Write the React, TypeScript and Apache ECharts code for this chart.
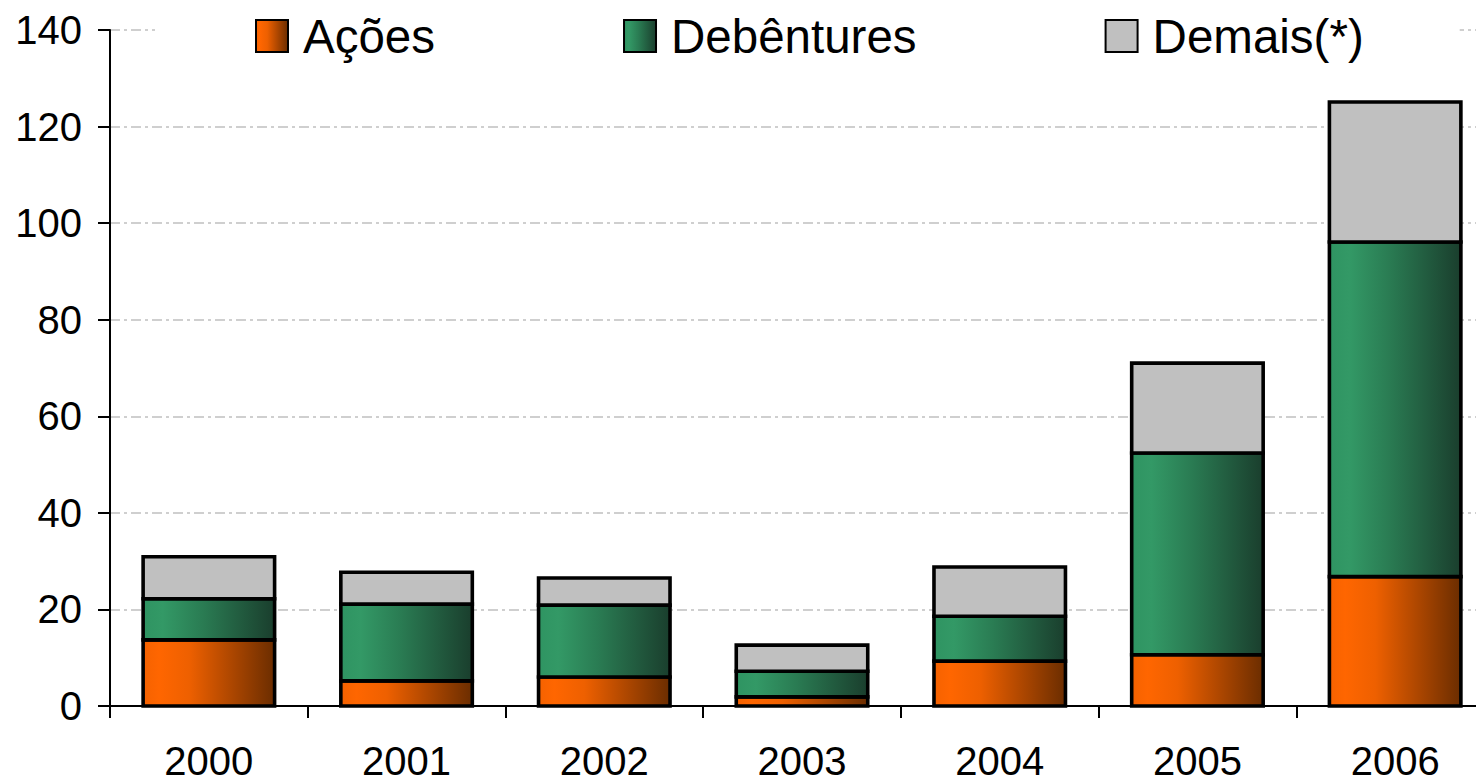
import React, { useEffect, useRef } from "react";
import * as echarts from "echarts";

const categories = ["2000", "2001", "2002", "2003", "2004", "2005", "2006"];
const acoes = [13.7, 5.2, 6.0, 1.9, 9.3, 10.6, 26.8];
const debentures = [8.5, 15.9, 14.9, 5.3, 9.3, 41.8, 69.3];
const demais = [8.7, 6.6, 5.6, 5.4, 10.2, 18.6, 29.0];
const seriesNames = ["Ações", "Debêntures", "Demais(*)"];

const FONT = "'Liberation Sans', Arial, sans-serif";

function grad(stops: [number, string][]) {
  return new echarts.graphic.LinearGradient(
    0, 0, 1, 0,
    stops.map(([offset, color]) => ({ offset, color }))
  );
}

export default function App() {
  const ref = useRef<HTMLDivElement>(null);
  useEffect(() => {
    if (!ref.current) return;
    const chart = echarts.init(ref.current, undefined, { renderer: "svg" });
    const fills = [
      () => grad([[0, "#f56200"], [0.12, "#ff6600"], [0.35, "#ee6000"], [1, "#6b2d00"]]),
      () => grad([[0, "#2f9462"], [0.15, "#339966"], [0.45, "#2a7c53"], [1, "#1a3e2d"]]),
      () => "#c0c0c0",
    ];
    const lists = [acoes, debentures, demais];
    const bases = categories.map(() => 0);
    const stacked = lists.map((list) =>
      list.map((v, i) => {
        const b = bases[i];
        bases[i] = b + v;
        return [i, b, b + v];
      })
    );
    const series = lists.map((_, s) => ({
      name: seriesNames[s],
      type: "custom",
      data: stacked[s],
      encode: { x: 0, y: [1, 2] },
      itemStyle: { color: fills[s](), borderColor: "#000", borderWidth: 3 },
      renderItem: (params: any, api: any) => {
        const idx = api.value(0);
        const top = api.coord([idx, api.value(2)]);
        const bottom = api.coord([idx, api.value(1)]);
        const w = api.size([1, 0])[0] * 0.665;
        return {
          type: "rect",
          shape: { x: top[0] - w / 2, y: top[1], width: w, height: bottom[1] - top[1] },
          style: { fill: fills[s](), stroke: "#000", lineWidth: 3.6 },
        };
      },
    }));
    chart.setOption({
      animation: false,
      textStyle: { fontFamily: FONT },
      legend: {
        top: 4,
        left: 155,
        padding: [8, 96, 8, 100],
        backgroundColor: "#fff",
        itemGap: 188,
        itemWidth: 32,
        itemHeight: 32,
        icon: "rect",
        textStyle: { fontSize: 47.5, color: "#000", fontFamily: FONT, padding: [0, 0, 0, 10] },
        data: seriesNames,
      },
      grid: { left: 110, top: 30, width: 1384, height: 676, containLabel: false },
      xAxis: {
        type: "category",
        data: categories,
        axisLine: { lineStyle: { color: "#000", width: 2 } },
        axisTick: { show: true, length: 12, lineStyle: { color: "#000", width: 2 } },
        axisLabel: { fontSize: 40, color: "#000", margin: 35, fontFamily: FONT },
      },
      yAxis: {
        type: "value",
        min: 0,
        max: 140,
        interval: 20,
        axisLine: { show: true, lineStyle: { color: "#000", width: 2 } },
        axisTick: { show: true, length: 12, lineStyle: { color: "#000", width: 2 } },
        axisLabel: { fontSize: 40, color: "#000", margin: 28, fontFamily: FONT },
        splitLine: { show: true, lineStyle: { color: "#c0c0c0", width: 1.5, type: [10, 4, 3, 4] } },
      },
      series,
    });
    return () => chart.dispose();
  }, []);
  return (
    <div style={{ position: "fixed", left: 0, top: 0, width: 1476, height: 782, overflow: "hidden", background: "#fff" }}>
      <div ref={ref} style={{ width: 1510, height: 782 }} />
    </div>
  );
}
